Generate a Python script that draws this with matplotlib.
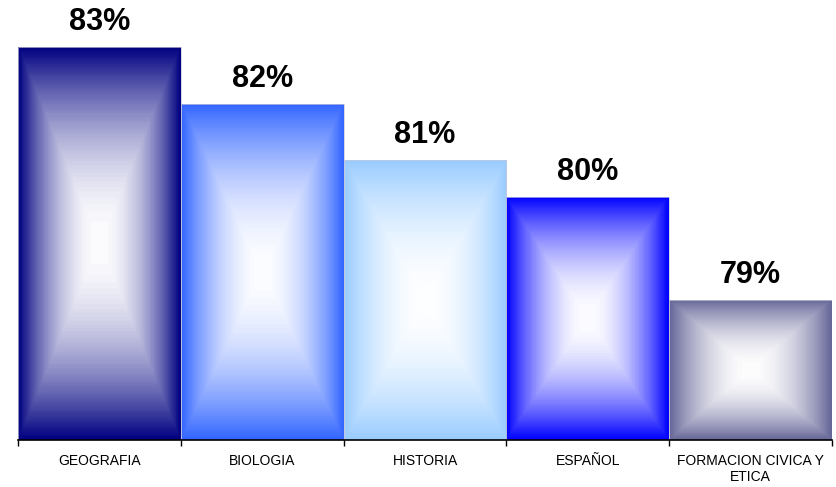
import numpy as np
import matplotlib
matplotlib.use('Agg')
import matplotlib.pyplot as plt
from matplotlib.colors import to_rgb

categories = ['GEOGRAFIA', 'BIOLOGIA', 'HISTORIA', 'ESPAÑOL', 'FORMACION CIVICA Y\nETICA']
values = [83.15, 82.11, 81.09, 80.42, 78.55]
bar_colors = ['#000080', '#3366FF', '#99CCFF', '#0000FF', '#666699']

Y_MIN, Y_MAX = 76, 84
LEVELS = 64  # faint banding of the rectangular fill


def rect_gradient(color, nx=200, ny=400):
    """White centre fading out to the edge colour, rectangular contours."""
    gx = np.abs(np.linspace(-1, 1, nx))
    gy = np.abs(np.linspace(-1, 1, ny))
    t = np.maximum(gx[None, :], gy[:, None])
    amt = np.clip(t, 0, 1) ** 1.9
    amt = np.ceil(amt * LEVELS) / LEVELS
    c = np.array(to_rgb(color))
    white = np.ones(3)
    return white + (c - white) * amt[..., None]


plt.rcParams['font.family'] = ['Liberation Sans', 'DejaVu Sans']

fig = plt.figure(figsize=(8.36, 4.87), dpi=100)
fig.patch.set_facecolor('white')
ax = fig.add_axes([18 / 836, 47 / 487, 814 / 836, 440 / 487])

x = np.arange(len(categories))
bars = ax.bar(x, values, width=1.0, bottom=0, color='none',
              edgecolor='#c8c8d8', linewidth=0.5, zorder=3)

for xi, v, col, b in zip(x, values, bar_colors, bars):
    img = rect_gradient(col)
    im = ax.imshow(img, extent=(xi - 0.5, xi + 0.5, Y_MIN, v),
                   aspect='auto', interpolation='bilinear', zorder=2)
    im.set_clip_path(b)
    ax.annotate(f'{v:.0f}%', (xi, v), xytext=(0, 12), textcoords='offset points',
                ha='center', va='baseline', fontsize=22, fontweight='bold',
                color='black')

ax.set_xlim(-0.5, len(categories) - 0.5)
ax.set_ylim(Y_MIN, Y_MAX)

ax.set_xticks(x)
ax.set_xticklabels(categories, fontsize=10)
ax.tick_params(axis='x', which='major', length=0, pad=10)
ax.set_xticks(np.arange(len(categories) + 1) - 0.5, minor=True)
ax.tick_params(axis='x', which='minor', length=4, width=1, color='black')
ax.set_yticks([])

for side in ('left', 'right', 'top'):
    ax.spines[side].set_visible(False)
ax.spines['bottom'].set_color('black')
ax.spines['bottom'].set_linewidth(1.2)
ax.spines['bottom'].set_zorder(4)

fig.savefig('out.png', dpi=100, facecolor='white')
